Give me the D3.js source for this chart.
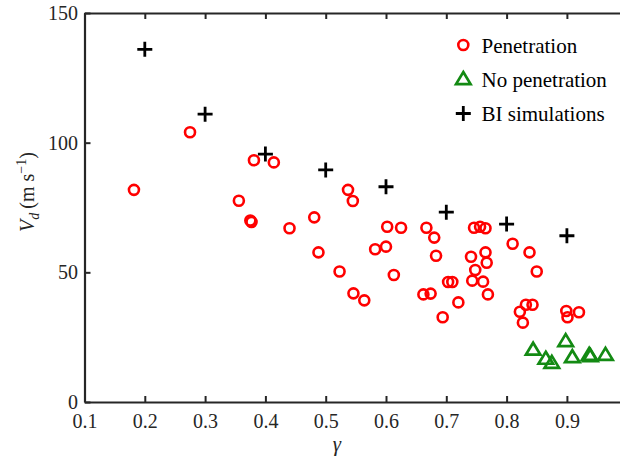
<!DOCTYPE html>
<html>
<head>
<meta charset="utf-8">
<script src="https://cdn.jsdelivr.net/npm/d3@7"></script>
<style>
  html, body { margin: 0; padding: 0; background: #fff; }
  svg { display: block; }
</style>
</head>
<body>
<svg id="chart" width="620" height="460"></svg>
<script>
// ---- Data ----
const penGamma = [0.182, 0.275, 0.356, 0.375, 0.377, 0.381, 0.414, 0.440, 0.481, 0.488,
                  0.523, 0.537, 0.545, 0.546, 0.564, 0.582, 0.600, 0.602, 0.613, 0.625,
                  0.662, 0.667, 0.674, 0.680, 0.683, 0.694, 0.703, 0.710, 0.720, 0.741,
                  0.743, 0.746, 0.748, 0.756, 0.761, 0.765, 0.765, 0.767, 0.769, 0.810,
                  0.822, 0.827, 0.832, 0.838, 0.843, 0.850, 0.899, 0.901, 0.920];
const penV     = [81.8, 104.0, 77.6, 70.0, 69.4, 93.2, 92.4, 67.0, 71.2, 57.7,
                  50.3, 81.8, 77.5, 41.9, 39.2, 58.9, 59.9, 67.6, 49.0, 67.2,
                  41.5, 67.2, 41.8, 63.4, 56.4, 32.7, 46.3, 46.3, 38.4, 56.0,
                  46.8, 67.2, 50.9, 67.6, 46.4, 67.0, 57.7, 53.7, 41.5, 61.0,
                  34.8, 30.6, 37.5, 57.7, 37.5, 50.3, 35.1, 32.7, 34.6];

const noPenGamma = [0.844, 0.865, 0.875, 0.898, 0.909, 0.937, 0.939, 0.964];
const noPenV     = [20.0, 16.5, 14.9, 23.3, 17.1, 18.0, 17.5, 18.0];

const biGamma = [0.2, 0.3, 0.4, 0.5, 0.6, 0.7, 0.8, 0.9];
const biV     = [136.0, 111.0, 95.6, 89.5, 83.0, 73.2, 68.6, 64.1];

const xTicks = [0.1, 0.2, 0.3, 0.4, 0.5, 0.6, 0.7, 0.8, 0.9];
const yTicks = [0, 50, 100, 150];

const legendLabels = ["Penetration", "No penetration", "BI simulations"];

// ---- Layout ----
const FONT = "'Liberation Serif'";
const svg = d3.select("#chart");
const mLeft = 84.5, mRight = 627.2, mTop = 13, mBottom = 402;
const axisColor = "#262626";
const fontSize = 20;

const x = d3.scaleLinear().domain([0.1, 1.0]).range([mLeft, mRight]);
const y = d3.scaleLinear().domain([0, 150]).range([mBottom, mTop]);

// Axes
const gx = svg.append("g").attr("transform", `translate(0,${mBottom})`)
  .call(d3.axisBottom(x).tickValues(xTicks).tickFormat(d3.format(".1f"))
        .tickSizeInner(-6).tickSizeOuter(0).tickPadding(0));
gx.selectAll("text").attr("y", 0).attr("dy", null).attr("transform", "translate(0,26)");

const gy = svg.append("g").attr("transform", `translate(${mLeft},0)`)
  .call(d3.axisLeft(y).tickValues(yTicks).tickFormat(d3.format("d"))
        .tickSizeInner(-6).tickSizeOuter(0).tickPadding(6.5));
gy.selectAll("text").attr("dy", "0.33em");

const gt = svg.append("g").attr("transform", `translate(0,${mTop})`)
  .call(d3.axisTop(x).tickValues(xTicks).tickFormat("").tickSizeInner(-6).tickSizeOuter(0));
const gr = svg.append("g").attr("transform", `translate(${mRight},0)`)
  .call(d3.axisRight(y).tickValues(yTicks).tickFormat("").tickSizeInner(-6).tickSizeOuter(0));

[gx, gy, gt, gr].forEach(g => {
  g.attr("font-family", null).attr("font-size", null);
  g.select(".domain").attr("stroke", axisColor).attr("stroke-width", 2.2);
  g.selectAll(".tick line").attr("stroke", axisColor).attr("stroke-width", 2);
  g.selectAll("text").attr("fill", axisColor).style("font-family", FONT).style("font-size", fontSize + "px");
});

// Axis labels
svg.append("text")
  .attr("x", 337).attr("y", 451)
  .attr("text-anchor", "middle")
  .attr("fill", axisColor)
  .style("font-family", FONT)
  .style("font-size", "21px").style("font-style", "italic")
  .text("γ");

const yl = svg.append("text")
  .attr("transform", "translate(34,192) rotate(-90)")
  .attr("text-anchor", "middle")
  .attr("fill", axisColor)
  .style("font-family", FONT)
  .style("font-size", fontSize + "px");
yl.append("tspan").style("font-style", "italic").text("V");
yl.append("tspan").style("font-style", "italic").style("font-size", "14px").attr("dy", 5).text("d");
yl.append("tspan").attr("dy", -5).text("\u2009(m s");
yl.append("tspan").style("font-size", "14px").attr("dy", -8).text("\u22121");
yl.append("tspan").attr("dy", 8).text(")");

// Marker shapes
const triPath = () => {
  const h = 12, w = 14.5;
  return `M0,${-h * 0.62}L${w / 2},${h * 0.38}L${-w / 2},${h * 0.38}Z`;
};
const plusPath = "M-7.5,0H7.5M0,-7.5V7.5";

const red = "#ff0000", green = "#138a13", black = "#000000";

// Penetration circles
svg.append("g").selectAll("circle")
  .data(d3.zip(penGamma, penV)).join("circle")
  .attr("cx", d => x(d[0])).attr("cy", d => y(d[1]))
  .attr("r", 5).attr("fill", "none").attr("stroke", red).attr("stroke-width", 2.6);

// No penetration triangles
svg.append("g").selectAll("path")
  .data(d3.zip(noPenGamma, noPenV)).join("path")
  .attr("transform", d => `translate(${x(d[0])},${y(d[1])})`)
  .attr("d", triPath).attr("fill", "none").attr("stroke", green).attr("stroke-width", 2.7);

// BI simulations
svg.append("g").selectAll("path")
  .data(d3.zip(biGamma, biV)).join("path")
  .attr("transform", d => `translate(${x(d[0])},${y(d[1])})`)
  .attr("d", plusPath).attr("fill", "none").attr("stroke", black).attr("stroke-width", 2.8);

// Legend
const lg = svg.append("g");
const rowY = [45, 79.5, 113.5];
const lx = 463.3, tx = 481.5;
lg.append("circle").attr("cx", lx).attr("cy", rowY[0]).attr("r", 5)
  .attr("fill", "none").attr("stroke", red).attr("stroke-width", 2.6);
lg.append("path").attr("transform", `translate(${lx},${rowY[1]})`).attr("d", triPath)
  .attr("fill", "none").attr("stroke", green).attr("stroke-width", 2.7);
lg.append("path").attr("transform", `translate(${lx},${rowY[2]})`).attr("d", plusPath)
  .attr("fill", "none").attr("stroke", black).attr("stroke-width", 2.8);
legendLabels.forEach((t, i) => {
  lg.append("text").attr("x", tx).attr("y", rowY[i] + 7.5)
    .style("font-family", FONT)
    .style("font-size", "21px").attr("fill", "#000").text(t);
});
</script>
</body>
</html>
